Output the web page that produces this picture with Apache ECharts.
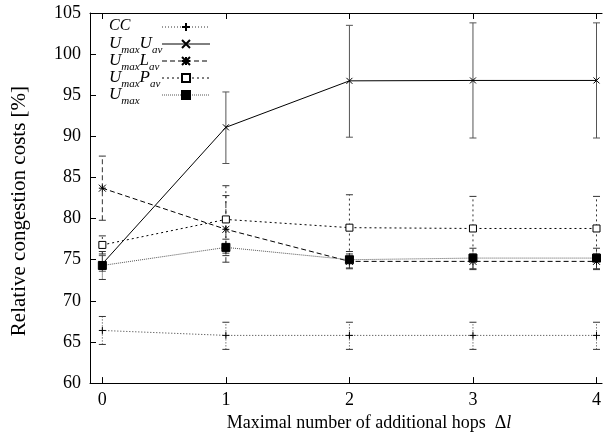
<!DOCTYPE html>
<html><head><meta charset="utf-8">
<script src="https://cdn.jsdelivr.net/npm/echarts@6/dist/echarts.min.js"></script>
<style>html,body{margin:0;padding:0;background:#fff}#c{width:604px;height:437px}</style>
</head><body><div id="c"></div>
<script>
var xTicks = [0, 1, 2, 3, 4];
var seriesNames = ['CC', 'UmaxUav', 'UmaxLav', 'UmaxPav', 'Umax'];
var ccVal  = [66.4, 65.8, 65.8, 65.8, 65.8];
var ccLow  = [64.7, 64.1, 64.1, 64.1, 64.1];
var ccHigh = [68.1, 67.4, 67.4, 67.4, 67.4];
var uuVal  = [74.5, 91.1, 96.75, 96.8, 96.8];
var uuLow  = [73.6, 86.7, 89.9, 89.8, 89.8];
var uuHigh = [75.5, 95.4, 103.5, 103.8, 103.8];
var ulVal  = [83.7, 78.7, 74.8, 74.8, 74.8];
var ulLow  = [79.8, 74.7, 73.9, 73.9, 73.9];
var ulHigh = [87.6, 82.8, 75.7, 75.7, 75.7];
var upVal  = [76.8, 79.9, 78.9, 78.8, 78.8];
var upLow  = [75.7, 75.8, 74.9, 74.8, 74.8];
var upHigh = [77.9, 84.0, 82.9, 82.7, 82.7];
var umVal  = [74.3, 76.5, 75.0, 75.2, 75.2];
var umLow  = [72.6, 75.5, 74.0, 73.8, 73.8];
var umHigh = [76.0, 77.5, 76.0, 76.4, 76.4];

var legendRich = {
  CC: '{c|CC}{s| }',
  UmaxUav: '{i|U}{s|max}{i|U}{s|av}',
  UmaxLav: '{i|U}{s|max}{i|L}{s|av}',
  UmaxPav: '{i|U}{s|max}{i|P}{s|av}',
  Umax: '{i|U}{s|max}'
};
var serif = 'Liberation Serif, Times New Roman, serif';

function pts(vals){ return xTicks.map(function(x,i){return [x, vals[i]];}); }
function bars(lo, hi){ return xTicks.map(function(x,i){return [x, lo[i], hi[i]];}); }

var styles = {
  CC:      {dash:[1,2], color:'#333', symbol:'path://M0,5L10,5M5,0L5,10', size:7, fill:'none'},
  UmaxUav: {dash:'solid', color:'#000', symbol:'path://M0,0L10,10M10,0L0,10', size:6, fill:'none'},
  UmaxLav: {dash:[5,3], color:'#000', symbol:'path://M0,0L10,10M10,0L0,10M0,5L10,5M5,0L5,10', size:7, fill:'none'},
  UmaxPav: {dash:[2,3], color:'#000', symbol:'rect', size:7, fill:'#fff'},
  Umax:    {dash:[1,1], color:'#555', symbol:'rect', size:8, fill:'#000'}
};
var dataMap = {
  CC: [ccVal, ccLow, ccHigh], UmaxUav: [uuVal, uuLow, uuHigh],
  UmaxLav: [ulVal, ulLow, ulHigh], UmaxPav: [upVal, upLow, upHigh], Umax: [umVal, umLow, umHigh]
};

var series = [];
seriesNames.forEach(function(n){
  var st = styles[n], d = dataMap[n];
  series.push({
    type: 'custom', name: n + '_err', silent: true,
    data: bars(d[1], d[2]),
    encode: {x: 0, y: [1, 2]},
    z: 2,
    renderItem: function(params, api){
      var x = api.value(0);
      var lo = api.coord([x, api.value(1)]);
      var hi = api.coord([x, api.value(2)]);
      var cap = 3.5;
      var stroke = n === 'UmaxUav' ? '#555' : '#333';
      var style = {stroke: stroke, lineWidth: 1, lineDash: st.dash === 'solid' ? null : st.dash, fill: null};
      return {type: 'group', children: [
        {type:'line', shape:{x1:lo[0], y1:lo[1], x2:hi[0], y2:hi[1]}, style: style},
        {type:'line', shape:{x1:lo[0]-cap, y1:lo[1], x2:lo[0]+cap, y2:lo[1]}, style: {stroke: stroke, lineWidth:1}},
        {type:'line', shape:{x1:hi[0]-cap, y1:hi[1], x2:hi[0]+cap, y2:hi[1]}, style: {stroke: stroke, lineWidth:1}}
      ]};
    }
  });
});
seriesNames.forEach(function(n){
  var st = styles[n], d = dataMap[n];
  series.push({
    type: 'line', name: n, data: pts(d[0]), z: 3,
    symbol: st.symbol, symbolSize: st.size, showAllSymbol: true,
    lineStyle: {color: st.color, width: 1, type: st.dash},
    itemStyle: {color: st.fill, borderColor: '#000', borderWidth: 1},
    emphasis: {disabled: true},
    animation: false
  });
});

var chart = echarts.init(document.getElementById('c'), null, {renderer: 'canvas'});
chart.setOption({
  animation: false,
  backgroundColor: '#fff',
  grid: {left: 90, top: 13, width: 514, height: 373, containLabel: false},
  legend: {
    data: seriesNames, orient: 'vertical', left: 104, top: 13,
    align: 'right', itemWidth: 48, itemHeight: 10, itemGap: -4,
    selectedMode: false,
    lineStyle: {width: 1},
    formatter: function(name){ return legendRich[name]; },
    textStyle: {
      width: 48, color: '#000',
      rich: {
        c: {fontFamily: serif, fontStyle: 'italic', fontSize: 16, color: '#000', lineHeight: 18, verticalAlign: 'top', align: 'left'},
        i: {fontFamily: serif, fontStyle: 'italic', fontSize: 17, color: '#000', lineHeight: 18, verticalAlign: 'top', align: 'left'},
        s: {fontFamily: serif, fontStyle: 'italic', fontSize: 11, color: '#000', lineHeight: 12, padding: [10, 0, 0, 0], verticalAlign: 'top', align: 'left'}
      }
    }
  },
  xAxis: [{
    type: 'value', min: -0.1, max: 4.045, position: 'bottom',
    name: '{a|Maximal number of additional hops  Δ}{b|l}', nameLocation: 'middle', nameGap: 30,
    nameTextStyle: {fontFamily: serif, fontSize: 18, color: '#000', padding: [0, 0, 0, 46],
      rich: {
        a: {fontFamily: serif, fontSize: 18, color: '#000'},
        b: {fontFamily: serif, fontSize: 18, fontStyle: 'italic', color: '#000'}
      }},
    axisLine: {lineStyle: {color: '#000', width: 1}},
    axisTick: {inside: true, length: 6, customValues: xTicks, lineStyle: {color: '#000'}},
    axisLabel: {customValues: xTicks, fontFamily: serif, fontSize: 18, color: '#000', margin: 8},
    splitLine: {show: false}
  }, {
    type: 'value', min: -0.1, max: 4.045, position: 'top',
    axisLine: {lineStyle: {color: '#000', width: 1}},
    axisTick: {inside: true, length: 6, customValues: xTicks, lineStyle: {color: '#000'}},
    axisLabel: {show: false},
    splitLine: {show: false}
  }],
  yAxis: [{
    type: 'value', min: 60, max: 105, interval: 5,
    name: 'Relative congestion costs [%]', nameLocation: 'middle', nameGap: 60, nameRotate: 90,
    nameTextStyle: {fontFamily: serif, fontSize: 21, color: '#000', padding: [0, 26, 0, 0]},
    axisLine: {show: true, onZero: false, lineStyle: {color: '#000', width: 1}},
    axisTick: {inside: true, length: 6, lineStyle: {color: '#000'}},
    axisLabel: {fontFamily: serif, fontSize: 18, color: '#000', margin: 9},
    splitLine: {show: false}
  }],
  series: series
});
</script></body></html>
